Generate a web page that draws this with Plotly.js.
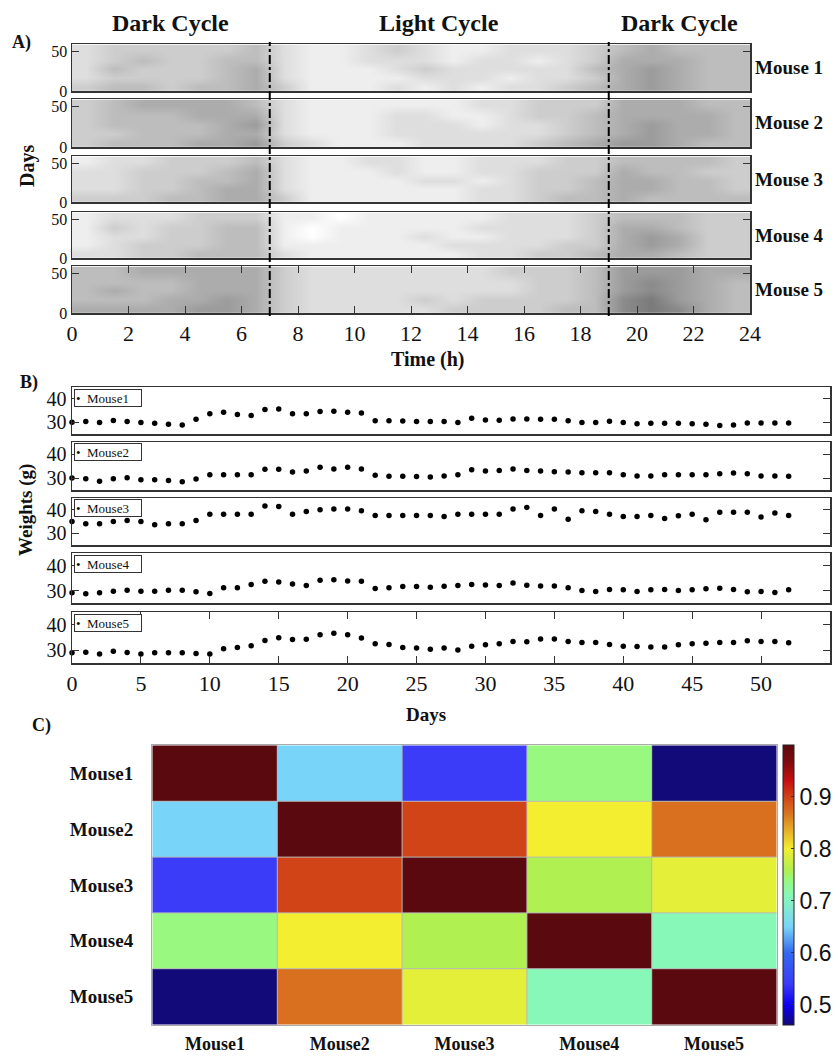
<!DOCTYPE html>
<html><head><meta charset="utf-8">
<script src="https://cdn.plot.ly/plotly-3.0.1.min.js"></script>
<style>html,body{margin:0;padding:0;background:#fff}</style>
</head><body><div id="chart" style="width:840px;height:1059px"></div>
<script>
// ---------------- DATA ----------------
// Panel A: estimated activity density (0-9) per hour bin, rows = day bands (bottom -> top)
const hours = [0.5,1.5,2.5,3.5,4.5,5.5,6.5,7.5,8.5,9.5,10.5,11.5,12.5,13.5,14.5,15.5,16.5,17.5,18.5,19.5,20.5,21.5,22.5,23.5];
const dayBands = [5.5,16.5,27.5,38.5,51.5];
const hourTicks = [0,2,4,6,8,10,12,14,16,18,20,22,24];
const rasterMice = ['Mouse 1','Mouse 2','Mouse 3','Mouse 4','Mouse 5'];
const activity1 = ['344344531112121223456544','233334521111222122356544','243334521112322222456544','234334421122212212355544','233333421123211222345444'];
const activity2 = ['344455632111222234566544','334445521112222223456554','344445621112221223456554','344455521112211233455554','345555421111112233355544'];
const activity3 = ['333445531111112234454444','223345521111112233455443','223344521111221233455443','223334521112112233354433','122333421122112223344443'];
const activity4 = ['223344421111112233455433','123334411111122223356533','122334410111211222356533','132334410111112222355433','122233311011111222344433'];
const activity5 = ['555566532222233334478754','444556532222323333478654','454455532222222233467654','444455532222222233467654','445555532222222333466655'];
const cycleBounds = [0,7,19,24];
const cycleNames = ['Dark Cycle','Light Cycle','Dark Cycle'];

// Panel B: body weights (g) per day
const days = [0,1,2,3,4,5,6,7,8,9,10,11,12,13,14,15,16,17,18,19,20,21,22,23,24,25,26,27,28,29,30,31,32,33,34,35,36,37,38,39,40,41,42,43,44,45,46,47,48,49,50,51,52];
const dayTicks = [0,5,10,15,20,25,30,35,40,45,50,55];
const weightMice = ['Mouse1','Mouse2','Mouse3','Mouse4','Mouse5'];
const weight1 = [30.0,30.3,29.9,30.7,30.3,29.9,29.6,29.2,28.8,31.3,33.6,34.3,33.3,32.9,35.4,35.6,33.6,33.6,34.6,34.7,34.3,33.9,30.6,30.6,30.5,30.3,30.3,30.3,29.9,31.7,31.0,30.8,31.4,31.4,31.3,31.3,30.6,29.9,29.9,30.4,29.9,29.4,29.6,29.6,29.6,29.4,29.2,28.6,28.8,29.7,29.7,29.7,29.7];
const weight2 = [30.0,29.7,28.6,29.7,30.1,29.3,29.3,29.0,28.4,29.6,31.4,31.4,31.4,31.4,33.6,33.6,32.5,32.9,34.5,33.8,34.5,33.7,31.1,30.7,30.7,30.6,30.4,30.8,31.4,33.4,32.9,33.1,33.8,33.1,32.9,32.6,32.5,32.2,32.2,32.2,31.4,30.8,30.8,31.4,31.4,31.4,31.4,31.8,32.1,31.8,30.8,30.8,30.7];
const weight3 = [35.0,34.0,34.0,35.0,35.4,35.0,33.6,34.0,34.0,35.4,38.1,38.1,38.1,38.1,41.6,41.4,38.1,39.3,40.0,40.3,40.3,39.6,37.6,37.6,37.6,37.6,37.6,37.1,38.1,38.1,38.1,38.1,40.3,41.0,37.6,40.3,36.0,39.6,39.3,38.1,37.1,37.1,37.6,36.3,37.4,38.1,35.7,38.9,38.9,38.9,36.9,38.6,37.6];
const weight4 = [29.1,28.7,29.1,29.7,30.1,29.7,29.7,30.1,30.1,29.5,28.8,31.1,31.1,32.4,33.7,33.4,32.6,32.0,34.1,34.3,33.8,33.7,30.8,31.1,31.6,31.6,31.3,31.7,32.0,32.4,32.2,32.0,33.0,32.1,31.8,31.8,31.1,30.0,29.6,30.4,30.3,29.6,30.3,30.4,30.0,30.3,30.7,30.9,30.4,29.5,29.6,29.2,30.3];
const weight5 = [29.0,29.2,28.5,29.6,29.1,28.5,29.0,29.0,29.0,28.7,28.5,30.6,31.1,31.8,33.8,34.9,34.2,34.3,36.1,36.7,36.1,34.8,32.5,32.3,31.1,30.9,30.4,30.9,30.1,31.6,32.2,32.5,33.4,33.3,34.4,34.4,33.4,33.0,33.0,32.3,31.6,31.5,31.3,31.3,32.2,32.5,32.7,33.0,33.0,33.7,33.4,33.4,32.9];

// Panel C: correlation matrix
const corrLabels = ['Mouse1','Mouse2','Mouse3','Mouse4','Mouse5'];
const corrRow1 = [1.00,0.65,0.54,0.74,0.46];
const corrRow2 = [0.65,1.00,0.90,0.80,0.87];
const corrRow3 = [0.54,0.90,1.00,0.76,0.79];
const corrRow4 = [0.74,0.80,0.76,1.00,0.71];
const corrRow5 = [0.46,0.87,0.79,0.71,1.00];
const colorTicks = [0.5,0.6,0.7,0.8,0.9];

// ---------------- FIGURE ----------------
const W = 840, H = 1059;
const px = x => x / W, py = y => 1 - y / H;
const serif = 'Liberation Serif, Times New Roman, serif';
const bold = (size) => ({family: serif, size: size, color: '#111', weight: 'bold'});
const traces = [];
const layout = {
  width: W, height: H, margin: {l:0, r:0, t:0, b:0}, autosize: false,
  paper_bgcolor: '#fff', plot_bgcolor: '#fff', showlegend: false,
  annotations: [], shapes: []
};
const ax = n => n === 1 ? '' : String(n);

// Panel A
const activity = [activity1, activity2, activity3, activity4, activity5];
const aTop = [44, 99, 156, 212, 266], aBot = [91, 147, 202, 258, 313];
activity.forEach((rows, i) => {
  const n = i + 1, last = i === 4;
  traces.push({
    type: 'heatmap', x: hours, y: dayBands,
    z: rows.map(s => s.split('').map(Number)),
    xaxis: 'x' + ax(n), yaxis: 'y' + ax(n),
    zmin: 0, zmax: 9, zsmooth: 'best',
    colorscale: [[0, '#ffffff'], [1, '#6a6a6a']],
    showscale: false, hoverinfo: 'skip'
  });
  layout['xaxis' + ax(n)] = {
    domain: [px(72), px(750)], range: [0, 24], anchor: 'y' + ax(n),
    showline: true, linecolor: '#333', linewidth: 1.5,
    mirror: last ? 'ticks' : true, ticks: last ? 'inside' : '', ticklen: 7, tickcolor: '#333',
    tickvals: hourTicks, showticklabels: last,
    tickfont: {family: serif, size: 22, color: '#111'},
    showgrid: false, zeroline: false, fixedrange: true
  };
  layout['yaxis' + ax(n)] = {
    domain: [py(aBot[i]), py(aTop[i])], range: [0, 59], anchor: 'x' + ax(n),
    showline: true, linecolor: '#333', linewidth: 1.5, mirror: 'ticks',
    ticks: 'inside', ticklen: 7, tickcolor: '#333', tickvals: [0, 50],
    tickfont: {family: serif, size: 16, color: '#111'},
    showgrid: false, zeroline: false, fixedrange: true
  };
  layout.annotations.push({
    text: rasterMice[i], xref: 'paper', yref: 'paper',
    x: px(753), xanchor: 'left', y: py((aTop[i] + aBot[i]) / 2), yanchor: 'middle',
    showarrow: false, font: bold(19)
  });
});
// cycle boundary lines and titles
cycleBounds.slice(1, -1).forEach(b => {
  layout.shapes.push({
    type: 'line', xref: 'x', yref: 'paper', x0: b, x1: b, y0: py(316), y1: py(42),
    line: {color: '#000', width: 2, dash: 'dashdot'}, layer: 'above'
  });
});
cycleNames.forEach((name, k) => {
  layout.annotations.push({
    text: name, xref: 'x', yref: 'paper',
    x: (cycleBounds[k] + cycleBounds[k + 1]) / 2, y: py(23), xanchor: 'center', yanchor: 'middle',
    showarrow: false, font: bold(24)
  });
});

// Panel B
const weights = [weight1, weight2, weight3, weight4, weight5];
const bTop = [387, 442, 498, 553, 612], bBot = [434, 490, 545, 603, 663];
weights.forEach((w, i) => {
  const n = 6 + i, last = i === 4;
  traces.push({
    type: 'scatter', mode: 'markers', x: days, y: w, name: weightMice[i],
    xaxis: 'x' + n, yaxis: 'y' + n, cliponaxis: false,
    marker: {color: '#000', size: 5.5}, hoverinfo: 'skip'
  });
  layout['xaxis' + n] = {
    domain: [px(72), px(830)], range: [0, 55], anchor: 'y' + n,
    showline: true, linecolor: '#333', linewidth: 1.5,
    mirror: last ? 'ticks' : true, ticks: last ? 'inside' : '', ticklen: 7, tickcolor: '#333',
    tickvals: dayTicks, showticklabels: last,
    tickfont: {family: serif, size: 22, color: '#111'},
    showgrid: false, zeroline: false, fixedrange: true
  };
  layout['yaxis' + n] = {
    domain: [py(bBot[i]), py(bTop[i])], range: [25, 45], anchor: 'x' + n,
    showline: true, linecolor: '#333', linewidth: 1.5, mirror: 'ticks',
    ticks: 'inside', ticklen: 7, tickcolor: '#333', tickvals: [30, 40],
    tickfont: {family: serif, size: 20, color: '#111'},
    showgrid: false, zeroline: false, fixedrange: true
  };
  layout.annotations.push({
    text: '\u2022\u00a0\u00a0' + weightMice[i], xref: 'paper', yref: 'paper',
    x: px(74), xanchor: 'left', y: py(bTop[i] + 1.5), yanchor: 'top',
    width: 64, height: 14, align: 'left', showarrow: false,
    bordercolor: '#333', borderwidth: 1, borderpad: 1, bgcolor: '#fff',
    font: {family: serif, size: 13, color: '#111'}
  });
});

// Panel C
const corr = [corrRow1, corrRow2, corrRow3, corrRow4, corrRow5];
traces.push({
  type: 'heatmap', x: corrLabels, y: corrLabels, z: corr,
  xaxis: 'x11', yaxis: 'y11', zmin: 0.461, zmax: 1.0, hoverinfo: 'skip',
  colorscale: [[0,'#120a78'],[0.07,'#0a00f0'],[0.147,'#3a3cf8'],[0.258,'#3468f0'],[0.351,'#78d4f8'],
               [0.462,'#88f8b8'],[0.518,'#98f880'],[0.555,'#b0f050'],[0.629,'#f4ee30'],[0.759,'#d87020'],
               [0.814,'#d04418'],[0.87,'#c81010'],[0.94,'#800a0e'],[1,'#5a0a0e']],
  colorbar: {
    x: px(783), xanchor: 'left', y: py(885), yanchor: 'middle',
    len: 280, lenmode: 'pixels', thickness: 11, thicknessmode: 'pixels',
    tickvals: colorTicks, ticks: 'inside', ticklen: 3, tickcolor: '#333',
    tickfont: {family: 'Liberation Sans, Arial, sans-serif', size: 23, color: '#111'},
    outlinewidth: 1, outlinecolor: '#222', xpad: 0, ypad: 0
  }
});
layout.xaxis11 = {
  domain: [px(152), px(777)], anchor: 'y11', type: 'category',
  showline: true, linecolor: '#aaa', linewidth: 1, mirror: true, ticks: '',
  ticklabelstandoff: 2, tickfont: bold(18), showgrid: false, zeroline: false, fixedrange: true
};
layout.yaxis11 = {
  domain: [py(1025), py(745)], anchor: 'x11', type: 'category', autorange: 'reversed',
  showline: true, linecolor: '#aaa', linewidth: 1, mirror: true, ticks: '',
  ticklabelstandoff: 14, tickfont: bold(19), showgrid: false, zeroline: false, fixedrange: true
};
for (let k = 0; k < corrLabels.length - 1; k++) {
  layout.shapes.push({type:'line', xref:'x11', yref:'y11', x0:k+0.5, x1:k+0.5, y0:-0.5, y1:corrLabels.length-0.5, line:{color:'#b8b8b8', width:1}});
  layout.shapes.push({type:'line', xref:'x11', yref:'y11', y0:k+0.5, y1:k+0.5, x0:-0.5, x1:corrLabels.length-0.5, line:{color:'#b8b8b8', width:1}});
}

// Labels
const lab = (text, x, y, size, angle) => layout.annotations.push({
  text: text, xref: 'paper', yref: 'paper', x: px(x), y: py(y),
  xanchor: 'center', yanchor: 'middle', showarrow: false, font: bold(size), textangle: angle || 0
});
lab('A)', 21, 42, 18);
lab('B)', 29, 382, 18);
lab('C)', 41, 725, 18);
lab('Days', 28, 166, 20, -90);
lab('Time (h)', 428, 359, 20);
lab('Weights (g)', 26, 510, 19, -90);
lab('Days', 426, 714, 19);

Plotly.newPlot('chart', traces, layout, {staticPlot: true, displayModeBar: false});
</script>
</body></html>
